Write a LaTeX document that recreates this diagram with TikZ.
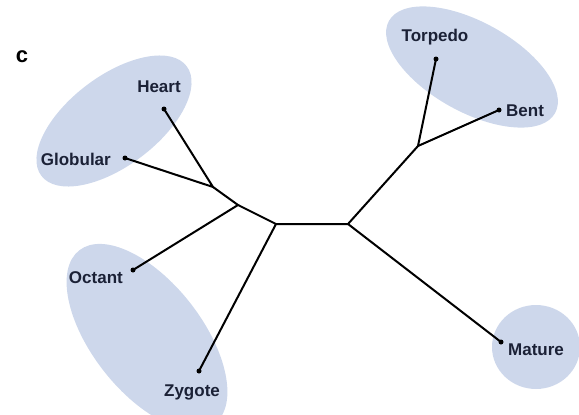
\documentclass[tikz,border=0pt]{standalone}
\usepackage{fontspec}
\setmainfont{Liberation Sans}
\definecolor{blobfill}{HTML}{CDD7EB}
\definecolor{txt}{HTML}{1B2136}
\tikzset{
  blob/.style={fill=blobfill, draw=none},
  leaf/.style={circle, fill=black, inner sep=0pt, minimum size=5pt},
  lab/.style={font=\fontsize{17}{19}\selectfont\bfseries, text=txt, inner sep=0pt},
  branch/.style={line width=2pt, black},
}
\begin{document}
\begin{tikzpicture}[x=1pt, y=-1pt]
\useasboundingbox (0,0) rectangle (579,415);
% shaded groups
\fill[blob, rotate around={37:(114,121)}] (114,121) ellipse [x radius=91, y radius=45];
\fill[blob, rotate around={-52:(147,337)}] (147,337) ellipse [x radius=110, y radius=55];
\fill[blob, rotate around={-29:(472,67)}] (472,67) ellipse [x radius=95, y radius=45];
\fill[blob] (536,347) ellipse [x radius=44, y radius=42];
% panel letter
\node[font=\fontsize{22}{24}\selectfont\bfseries, inner sep=0pt] (c) at (22,57) {c};
% internal junctions
\coordinate (j1) at (213,187);
\coordinate (j2) at (238,205);
\coordinate (j3) at (276,224);
\coordinate (j4) at (348,224);
\coordinate (j5) at (418,146);
% leaves
\node[leaf] (heart) at (164,109) {};
\node[leaf] (glob) at (125,158) {};
\node[leaf] (oct) at (133,270) {};
\node[leaf] (zyg) at (199,371) {};
\node[leaf] (torp) at (436,59) {};
\node[leaf] (bent) at (499,110) {};
\node[leaf] (mat) at (501,342) {};
% labels
\node[lab] (lheart) at (159,87) {Heart};
\node[lab, anchor=east] (lglob) at (111,159) {Globular};
\node[lab, anchor=east] (loct) at (123,278) {Octant};
\node[lab] (lzyg) at (192,392) {Zygote};
\node[lab] (ltorp) at (435,37) {Torpedo};
\node[lab, anchor=west] (lbent) at (506,111) {Bent};
\node[lab, anchor=west] (lmat) at (508,350) {Mature};
% branches
\draw[branch] (heart.center) -- (j1) -- (glob.center);
\draw[branch] (j1) -- (j2) -- (oct.center);
\draw[branch] (j2) -- (j3) -- (zyg.center);
\draw[branch] (j3) -- (j4) -- (mat.center);
\draw[branch] (j4) -- (j5) -- (torp.center);
\draw[branch] (j5) -- (bent.center);
\end{tikzpicture}
\end{document}
